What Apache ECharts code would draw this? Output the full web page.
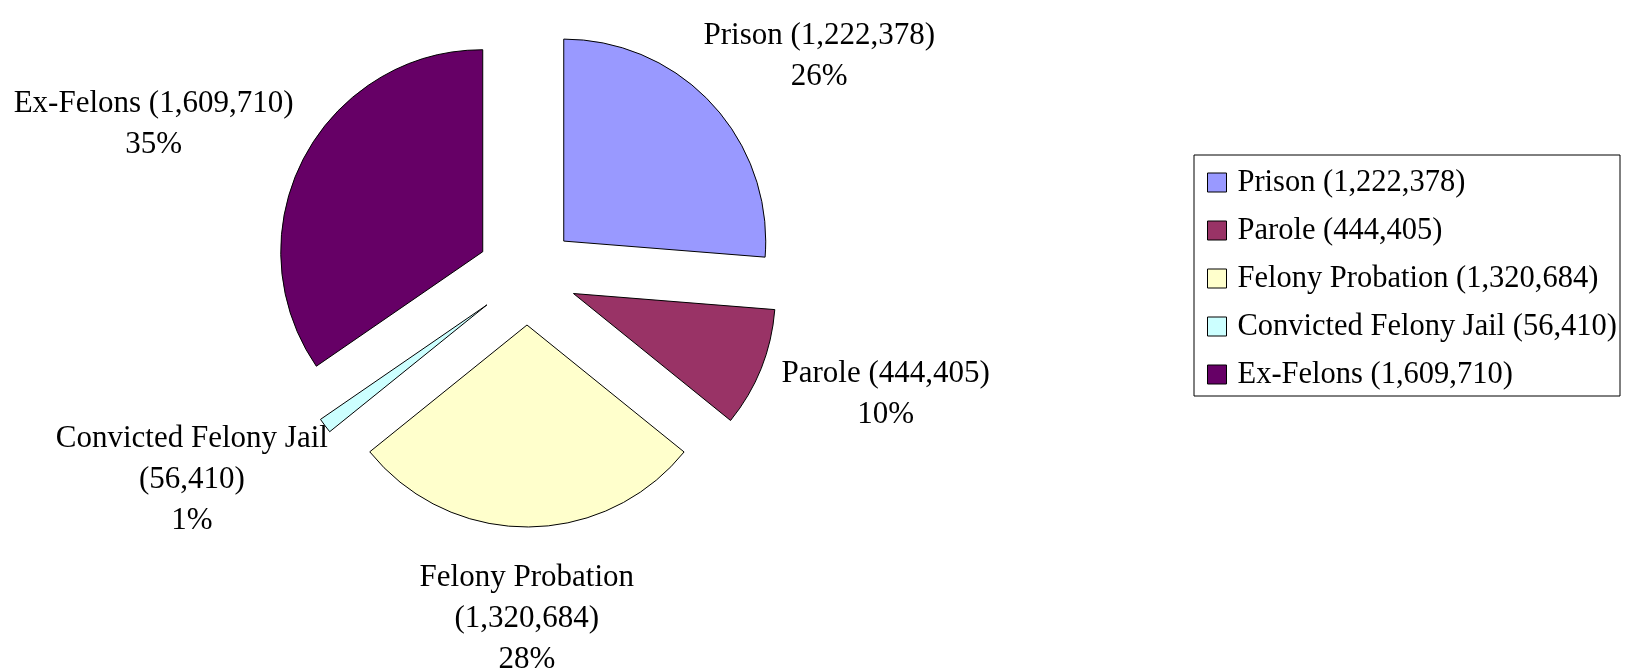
<!DOCTYPE html>
<html>
<head>
<meta charset="utf-8">
<script src="https://cdn.jsdelivr.net/npm/echarts@6/dist/echarts.min.js"></script>
<style>
html,body{margin:0;padding:0;background:#fff;}
#chart{width:1627px;height:670px;}
</style>
</head>
<body>
<div id="chart"></div>
<script>
// ---- data ----
const categories = ['Prison', 'Parole', 'Felony Probation', 'Convicted Felony Jail', 'Ex-Felons'];
const values = [1222378, 444405, 1320684, 56410, 1609710];
const colors = ['#9999FF', '#993366', '#FFFFCC', '#CCFFFF', '#660066'];

// ---- helpers ----
const FONT = '"Liberation Serif", "Times New Roman", serif';
const FS = 31;
const fmtNum = v => String(v).replace(/\B(?=(\d{3})+(?!\d))/g, ',');
const total = values.reduce((a, b) => a + b, 0);
const names = categories.map((c, i) => c + ' (' + fmtNum(values[i]) + ')');
const ctx = document.createElement('canvas').getContext('2d');
ctx.font = FS + 'px ' + FONT;
const maxLabelWidth = 300;

function labelText(i) {
  const pct = Math.round(values[i] / total * 100) + '%';
  const full = names[i];
  if (ctx.measureText(full).width > maxLabelWidth) {
    return categories[i] + '\n(' + fmtNum(values[i]) + ')\n' + pct;
  }
  return full + '\n' + pct;
}

const CX = 527, CY = 275, R = 202, OFFSET = 50, GAP = 30;

// mid angles (clockwise from 12 o'clock)
const midAngles = [];
{
  let acc = 0;
  values.forEach(v => {
    const a = v / total * 2 * Math.PI;
    midAngles.push(acc + a / 2);
    acc += a;
  });
}

const chart = echarts.init(document.getElementById('chart'), null, {renderer: 'canvas'});
chart.setOption({
  animation: false,
  backgroundColor: '#fff',
  color: colors,
  legend: {
    orient: 'vertical',
    left: 1194,
    top: 155,
    data: names,
    icon: 'rect',
    itemWidth: 19,
    itemHeight: 19,
    itemGap: 17,
    padding: [12, 3, 6, 13],
    borderColor: '#000',
    borderWidth: 1,
    selectedMode: false,
    itemStyle: {borderColor: '#000', borderWidth: 1},
    textStyle: {fontFamily: FONT, fontSize: 30.5, color: '#000', padding: [0, 0, 4, 6]}
  },
  series: [{
    // exploded pie
    type: 'pie',
    center: [CX, CY],
    radius: R,
    startAngle: 90,
    clockwise: true,
    selectedMode: 'multiple',
    selectedOffset: OFFSET,
    emphasis: {disabled: true, scale: false},
    itemStyle: {borderColor: '#000', borderWidth: 1},
    select: {itemStyle: {borderColor: '#000', borderWidth: 1}},
    label: {show: false},
    labelLine: {show: false},
    data: names.map((n, i) => ({name: n, value: values[i], selected: true}))
  }, {
    // label carrier (transparent, same geometry)
    type: 'pie',
    center: [CX, CY],
    radius: R,
    startAngle: 90,
    clockwise: true,
    silent: true,
    legendHoverLink: false,
    avoidLabelOverlap: false,
    emphasis: {disabled: true, scale: false},
    itemStyle: {color: 'rgba(0,0,0,0)', borderWidth: 0},
    labelLine: {show: false},
    label: {
      show: true,
      position: 'outside',
      fontFamily: FONT,
      fontSize: FS,
      lineHeight: 41,
      color: '#000',
      align: 'center',
      formatter: p => labelText(p.dataIndex)
    },
    labelLayout: function (params) {
      const i = params.dataIndex;
      const th = midAngles[i];
      const s = Math.sin(th), c = Math.cos(th);
      const dist = R + OFFSET + GAP;
      const px = CX + dist * s, py = CY - dist * c;
      const w = params.labelRect.width, h = params.labelRect.height;
      return {
        x: px + w / 2 * s,
        y: py - h / 2 * c,
        align: 'center',
        verticalAlign: 'middle'
      };
    },
    data: names.map((n, i) => ({name: n, value: values[i]}))
  }]
});
</script>
</body>
</html>
